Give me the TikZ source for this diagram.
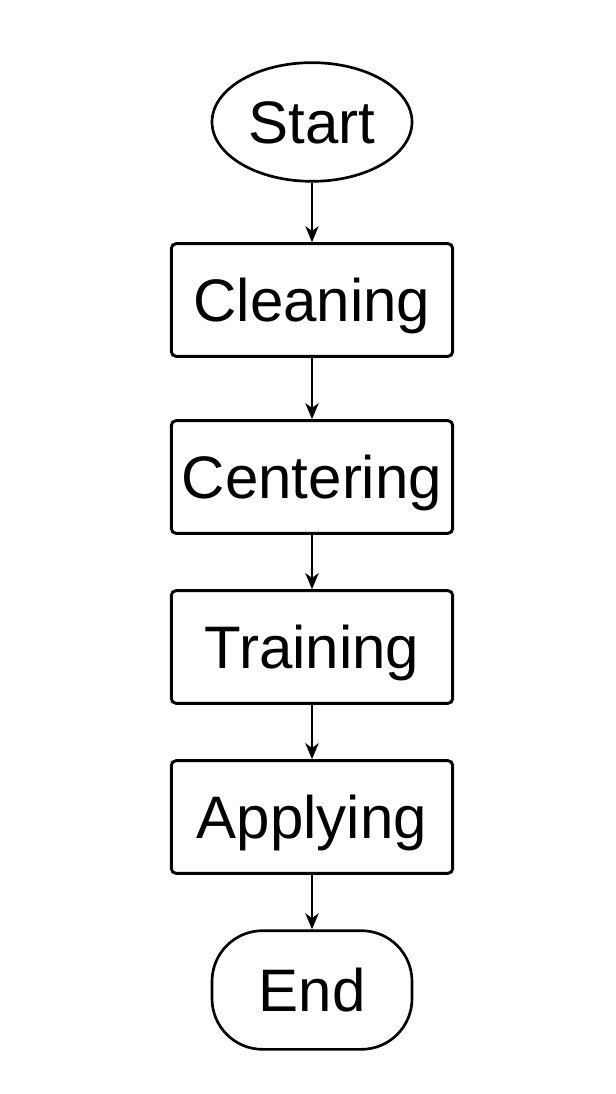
\documentclass[tikz,border=0pt]{standalone}
\usepackage{fontspec}
\setmainfont{Liberation Sans}
\usetikzlibrary{shapes.geometric,arrows.meta}
\begin{document}
\begin{tikzpicture}[x=0.75pt,y=-0.75pt,
  base/.style={draw=black,fill=white,inner sep=0pt,
    font=\fontsize{45pt}{54pt}\selectfont,text height=32.4pt,text depth=0pt},
  term/.style={base,ellipse,line width=2pt,minimum width=150pt,minimum height=89pt},
  endterm/.style={base,rectangle,rounded corners=38pt,line width=2pt,minimum width=150pt,minimum height=89pt},
  stepbox/.style={base,rectangle,rounded corners=3.5pt,line width=2.2pt,minimum width=211pt,minimum height=84.5pt},
  conn/.style={line width=1.5pt,-{Stealth[length=12pt,width=10pt,inset=3.5pt]}}]
\useasboundingbox (0,0) rectangle (616,1094);
\node[term] (start) at (312,122) {Start};
\node[stepbox] (clean) at (312,300) {Cleaning};
\node[stepbox] (center) at (312,477) {Centering};
\node[stepbox] (train) at (312,647) {Training};
\node[stepbox] (apply) at (312,817) {Applying};
\node[endterm] (end) at (312,990) {End};
\draw[conn] (start) -- (clean);
\draw[conn] (clean) -- (center);
\draw[conn] (center) -- (train);
\draw[conn] (train) -- (apply);
\draw[conn] (apply) -- (end);
\end{tikzpicture}
\end{document}
